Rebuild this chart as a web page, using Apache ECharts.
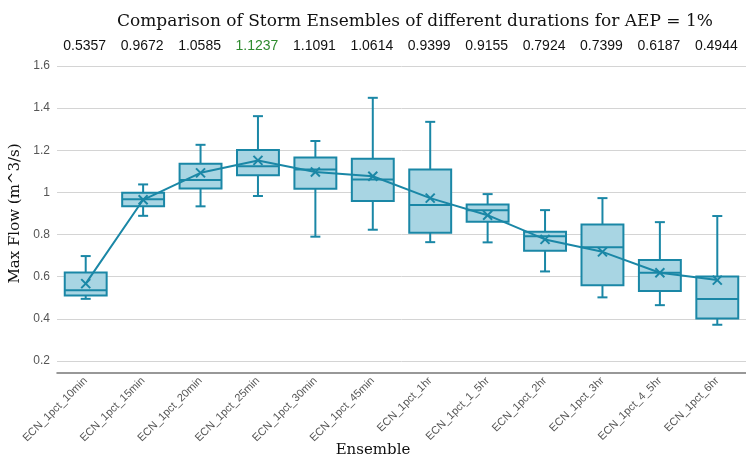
<!DOCTYPE html>
<html><head><meta charset="utf-8">
<script src="https://cdn.jsdelivr.net/npm/echarts@6/dist/echarts.min.js"></script>
<style>html,body{margin:0;padding:0;background:#fff}#c{width:746px;height:459px}</style>
</head><body><div id="c"></div>
<script>
const categories = ['ECN_1pct_10min','ECN_1pct_15min','ECN_1pct_20min','ECN_1pct_25min','ECN_1pct_30min','ECN_1pct_45min','ECN_1pct_1hr','ECN_1pct_1_5hr','ECN_1pct_2hr','ECN_1pct_3hr','ECN_1pct_4_5hr','ECN_1pct_6hr'];
const whiskerLow  = [0.495, 0.889, 0.934, 0.983, 0.790, 0.823, 0.764, 0.763, 0.625, 0.502, 0.465, 0.372];
const quartile1   = [0.511, 0.935, 1.019, 1.081, 1.017, 0.959, 0.809, 0.861, 0.723, 0.560, 0.532, 0.402];
const medians     = [0.5357, 0.9672, 1.0585, 1.1237, 1.1091, 1.0614, 0.9399, 0.9155, 0.7924, 0.7399, 0.6187, 0.4944];
const quartile3   = [0.620, 0.999, 1.136, 1.201, 1.166, 1.160, 1.109, 0.943, 0.813, 0.848, 0.679, 0.601];
const whiskerHigh = [0.698, 1.038, 1.226, 1.362, 1.244, 1.449, 1.335, 0.992, 0.916, 0.973, 0.859, 0.888];
const means       = [0.567, 0.965, 1.093, 1.152, 1.097, 1.077, 0.973, 0.892, 0.777, 0.718, 0.619, 0.584];
const highlightIndex = 3;
const xAxisTitle = 'Ensemble';

const STROKE = '#1a87a6', FILL = '#a8d5e3';
const chart = echarts.init(document.getElementById('c'));
const boxData = categories.map((c, i) => [i, whiskerLow[i], quartile1[i], medians[i], quartile3[i], whiskerHigh[i]]);
const meanData = categories.map((c, i) => [i, means[i]]);

chart.setOption({
  animation: false,
  backgroundColor: '#fff',
  title: {
    text: 'Comparison of Storm Ensembles of different durations for AEP = 1%',
    left: 112, top: 8,
    textStyle: {fontFamily: 'DejaVu Serif', fontSize: 17, fontWeight: 'normal', color: '#111'}
  },
  grid: {left: 57, right: 0, top: 66, bottom: 98, containLabel: false, outerBoundsMode: 'none'},
  xAxis: {
    type: 'category', data: categories, offset: 12,
    axisLine: {lineStyle: {color: '#777', width: 1.5}},
    axisTick: {alignWithLabel: true, inside: true, length: 4, lineStyle: {color: '#777'}},
    axisLabel: {rotate: 45, margin: 6, fontSize: 11, color: '#555', fontFamily: 'Liberation Sans', interval: 0}
  },
  yAxis: {
    type: 'value', min: 0.2, max: 1.6, interval: 0.2,
    axisLine: {show: false}, axisTick: {show: false},
    splitLine: {lineStyle: {color: '#d4d4d4', width: 1}},
    axisLabel: {fontSize: 12, color: '#555', fontFamily: 'Liberation Sans', margin: 7},
    name: 'Max Flow (m^3/s)', nameLocation: 'middle', nameGap: 29,
    nameTextStyle: {fontFamily: 'DejaVu Serif', fontSize: 15, color: '#111'}
  },
  series: [
    {
      type: 'custom', data: boxData, encode: {x: 0, y: [1, 2, 3, 4, 5]}, z: 2,
      renderItem: function (params, api) {
        const i = api.value(0);
        const band = api.size([1, 0])[0];
        const hw = band * 0.365, cw = 5;
        const pHi = api.coord([i, api.value(5)]);
        const pQ3 = api.coord([i, api.value(4)]);
        const pMed = api.coord([i, api.value(3)]);
        const pQ1 = api.coord([i, api.value(2)]);
        const pLo = api.coord([i, api.value(1)]);
        const x = pMed[0];
        const st = {stroke: STROKE, lineWidth: 2, fill: null};
        return {type: 'group', children: [
          {type: 'line', shape: {x1: x, y1: pHi[1], x2: x, y2: pQ3[1]}, style: st},
          {type: 'line', shape: {x1: x - cw, y1: pHi[1], x2: x + cw, y2: pHi[1]}, style: st},
          {type: 'line', shape: {x1: x, y1: pQ1[1], x2: x, y2: pLo[1]}, style: st},
          {type: 'line', shape: {x1: x - cw, y1: pLo[1], x2: x + cw, y2: pLo[1]}, style: st},
          {type: 'rect', shape: {x: x - hw, y: pQ3[1], width: 2 * hw, height: pQ1[1] - pQ3[1]}, style: {fill: FILL, stroke: STROKE, lineWidth: 2}},
          {type: 'line', shape: {x1: x - hw, y1: pMed[1], x2: x + hw, y2: pMed[1]}, style: st}
        ]};
      }
    },
    {
      type: 'line', data: means, symbol: 'none', z: 3,
      lineStyle: {color: STROKE, width: 2}
    },
    {
      type: 'custom', data: meanData, encode: {x: 0, y: 1}, z: 4,
      renderItem: function (params, api) {
        const p = api.coord([api.value(0), api.value(1)]);
        const s = 4.5;
        const st = {stroke: STROKE, lineWidth: 2, fill: null};
        return {type: 'group', children: [
          {type: 'line', shape: {x1: p[0] - s, y1: p[1] - s, x2: p[0] + s, y2: p[1] + s}, style: st},
          {type: 'line', shape: {x1: p[0] - s, y1: p[1] + s, x2: p[0] + s, y2: p[1] - s}, style: st}
        ]};
      }
    }
  ]
});

const texts = medians.map((m, i) => ({
  type: 'text',
  x: chart.convertToPixel({xAxisIndex: 0}, i) - 1,
  y: 46,
  style: {
    text: m.toFixed(4), fontSize: 14, fontFamily: 'Liberation Sans',
    fill: i === highlightIndex ? '#2e8b2e' : '#111',
    textAlign: 'center', textVerticalAlign: 'middle'
  }
}));
texts.push({
  type: 'text', left: 'center', top: 443,
  x: 401,
  style: {text: xAxisTitle, fontSize: 15, fontFamily: 'DejaVu Serif', fill: '#111', textAlign: 'center'}
});
chart.setOption({graphic: texts});
</script></body></html>
